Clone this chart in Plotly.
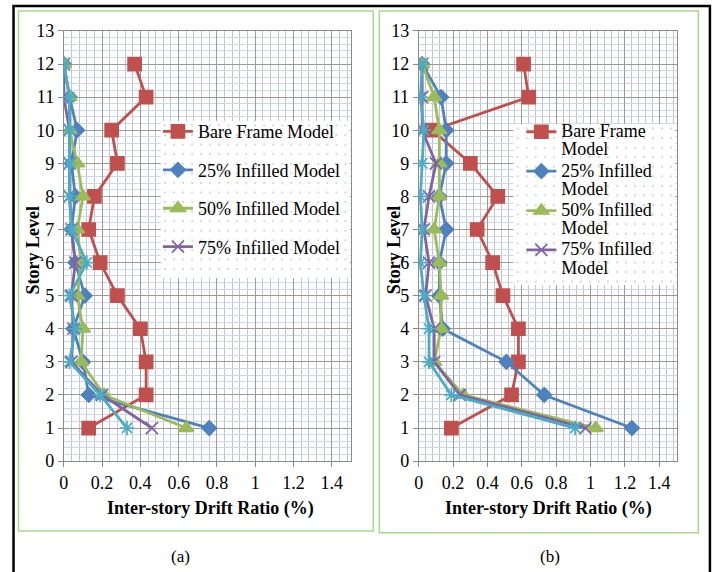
import base64
import plotly.graph_objects as go

W, H = 713, 572

# Story levels (top to bottom)
levels = [12, 11, 10, 9, 8, 7, 6, 5, 4, 3, 2, 1]

# (a) inter-story drift ratio (%)
bare_a = [0.37, 0.43, 0.25, 0.28, 0.16, 0.13, 0.19, 0.28, 0.40, 0.43, 0.43, 0.13]
inf25_a = [0.00, 0.03, 0.07, 0.04, 0.06, 0.04, 0.06, 0.11, 0.05, 0.10, 0.13, 0.76]
inf50_a = [0.00, 0.03, 0.03, 0.07, 0.10, 0.07, 0.09, 0.07, 0.10, 0.09, 0.21, 0.64]
inf75_a = [0.00, 0.00, 0.03, 0.03, 0.03, 0.04, 0.06, 0.04, 0.05, 0.04, 0.20, 0.46]
inf100_a = [0.00, 0.03, 0.03, 0.03, 0.03, 0.04, 0.12, 0.03, 0.06, 0.03, 0.19, 0.33]

# (b) inter-story drift ratio (%)
bare_b = [0.61, 0.64, 0.08, 0.30, 0.46, 0.34, 0.43, 0.49, 0.58, 0.58, 0.54, 0.19]
inf25_b = [0.02, 0.13, 0.16, 0.16, 0.12, 0.16, 0.12, 0.12, 0.14, 0.51, 0.73, 1.24]
inf50_b = [0.02, 0.09, 0.12, 0.12, 0.12, 0.09, 0.12, 0.13, 0.13, 0.09, 0.26, 1.03]
inf75_b = [0.02, 0.02, 0.02, 0.10, 0.06, 0.03, 0.06, 0.04, 0.09, 0.09, 0.24, 0.97]
inf100_b = [0.02, 0.01, 0.03, 0.02, 0.01, 0.02, 0.01, 0.03, 0.06, 0.06, 0.19, 0.91]

names_a = ["Bare Frame Model", "25% Infilled Model", "50% Infilled Model",
           "75% Infilled Model", "100% Infilled Model"]
# two-line legend labels for the narrower panel
wrapped_b = [("Bare Frame", "Model"), ("25% Infilled", "Model"), ("50% Infilled", "Model"),
             ("75% Infilled", "Model"), ("100% Infilled", "Model")]
x_ticks = [0, 0.2, 0.4, 0.6, 0.8, 1, 1.2, 1.4]
x_tick_text = ["0", "0.2", "0.4", "0.6", "0.8", "1", "1.2", "1.4"]
y_ticks = list(range(0, 14))

colors = ["#C0504D", "#4F81BD", "#9BBB59", "#8064A2", "#4BACC6"]
symbols = ["square", "diamond", "triangle-up", "x-thin-open", "asterisk-open"]
msizes = [13, 11, 13, 12, 12]

FONT = "Liberation Serif, Times New Roman, serif"

# legend line spacing follows the legend font size; the label text itself is larger
span = "<span style='font-size:18px'>{}</span>"
names_b = [span.format(a) + "<br>" + span.format(b) for a, b in wrapped_b]

# page placement of the figure (scale, offset) used to position layout items
SX, OX = 0.991, 4.8
SY, OY = 0.968, 9.0


def px_x(p):
    return ((p - OX) / SX) / W


def px_y(p):
    return 1 - ((p - OY) / SY) / H


def raw_y(p):
    return 1 - p / H


def dotted_panel(w, h, step_x=9.0, step_y=9.6):
    """White panel with a fine dot pattern, as an SVG data URI."""
    svg = (f"<svg xmlns='http://www.w3.org/2000/svg' width='{w}' height='{h}'>"
           f"<defs><pattern id='d' width='{step_x}' height='{step_y}' "
           f"patternUnits='userSpaceOnUse'>"
           f"<rect x='{step_x / 2 - 0.6}' y='{step_y / 2 - 0.6}' width='1.2' height='1.2' "
           f"fill='#9a9a9a'/></pattern></defs>"
           f"<rect width='{w}' height='{h}' fill='white'/>"
           f"<rect width='{w}' height='{h}' fill='url(#d)'/></svg>")
    return "data:image/svg+xml;base64," + base64.b64encode(svg.encode()).decode()


fig = go.Figure()

panels = [
    ("x", "y", "legend", names_a, [bare_a, inf25_a, inf50_a, inf75_a, inf100_a]),
    ("x2", "y2", "legend2", names_b, [bare_b, inf25_b, inf50_b, inf75_b, inf100_b]),
]
for xa, ya, leg, names, series in panels:
    for i, (nm, vals) in enumerate(zip(names, series)):
        fig.add_trace(go.Scatter(
            x=vals, y=levels, name=nm, mode="lines+markers",
            xaxis=xa, yaxis=ya, legend=leg, legendgroup=f"{leg}{i}",
            showlegend=i < 4,
            line=dict(color=colors[i], width=2.8),
            marker=dict(symbol=symbols[i], size=msizes[i], color=colors[i],
                        line=dict(color=colors[i], width=1.7)),
        ))

axis_common = dict(
    showline=True, linecolor="#8a8a8a", linewidth=1, mirror=True,
    ticks="outside", ticklen=5, tickcolor="#8a8a8a",
    tickfont=dict(family=FONT, size=18, color="black"),
    gridcolor="#9a9a9a", gridwidth=1, zeroline=False,
)
xa_common = dict(axis_common, range=[0, 1.5], tickvals=x_ticks, ticktext=x_tick_text,
                 minor=dict(dtick=0.04, tick0=0, showgrid=True, gridcolor="#c4c4c4",
                            gridwidth=1))
ya_common = dict(axis_common, range=[0, 13], tickvals=y_ticks,
                 minor=dict(dtick=0.2, tick0=0, showgrid=True, gridcolor="#c9d8ee",
                            gridwidth=1))

y_dom = [px_y(461.5), px_y(30)]
fig.update_layout(
    width=W, height=H,
    margin=dict(l=0, r=0, t=0, b=0),
    paper_bgcolor="white", plot_bgcolor="white",
    xaxis=dict(xa_common, domain=[px_x(63.5), px_x(350)], anchor="y"),
    yaxis=dict(ya_common, domain=y_dom, anchor="x"),
    xaxis2=dict(xa_common, domain=[px_x(417.7), px_x(675)], anchor="y2"),
    yaxis2=dict(ya_common, domain=y_dom, anchor="x2"),
    legend=dict(x=154 / W, y=raw_y(107), xanchor="left", yanchor="top",
                bgcolor="rgba(0,0,0,0)", font=dict(family=FONT, size=18, color="black"),
                tracegroupgap=12, traceorder="grouped", itemwidth=30),
    legend2=dict(x=520 / W, y=raw_y(110), xanchor="left", yanchor="top",
                 bgcolor="rgba(0,0,0,0)", font=dict(family=FONT, size=14, color="black"),
                 tracegroupgap=0, traceorder="grouped", valign="top", itemwidth=30),
    showlegend=True,
)

# dotted legend panels
for x0, x1, y0, y1 in ((160, 349, 120, 278), (512, 674, 123, 285)):
    fig.add_layout_image(
        source=dotted_panel(int(x1 - x0), int(y1 - y0)),
        xref="paper", yref="paper", x=px_x(x0), y=px_y(y0),
        sizex=px_x(x1) - px_x(x0), sizey=px_y(y0) - px_y(y1),
        xanchor="left", yanchor="top", sizing="stretch", layer="above",
    )

# axis titles and panel captions
for cx in (33, 393):
    fig.add_annotation(text="<b>Story Level</b>", x=px_x(cx), y=px_y(250), xref="paper",
                       yref="paper", showarrow=False, textangle=-90,
                       xanchor="center", yanchor="middle",
                       font=dict(family=FONT, size=18, color="black"))
for cx in (210, 547):
    fig.add_annotation(text="<b>Inter-story Drift Ratio (%)</b>", x=px_x(cx), y=px_y(509),
                       xref="paper", yref="paper", showarrow=False,
                       xanchor="center", yanchor="middle",
                       font=dict(family=FONT, size=18, color="black"))
for cx, lab in ((180, "(a)"), (549, "(b)")):
    fig.add_annotation(text=lab, x=px_x(cx), y=px_y(557), xref="paper", yref="paper",
                       showarrow=False, xanchor="center", yanchor="middle",
                       font=dict(family=FONT, size=17, color="black"))

# panel frames
for x0, x1, y1 in ((18.3, 372.3, 531.7), (378.3, 696.7, 533.3)):
    fig.add_shape(type="rect", xref="paper", yref="paper",
                  x0=px_x(x0), x1=px_x(x1), y0=px_y(y1), y1=px_y(10),
                  line=dict(color="#a6d98a", width=1.5))
# outer frame (its bottom edge runs below the page)
fig.add_shape(type="rect", xref="paper", yref="paper",
              x0=px_x(13.3), x1=px_x(708.3), y0=px_y(585), y1=px_y(5),
              line=dict(color="black", width=2.5))

fig.write_html("out.html")
